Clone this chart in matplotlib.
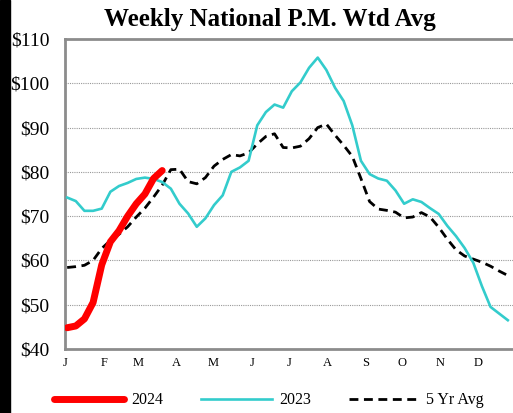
import numpy as np
import matplotlib
matplotlib.use("Agg")
import matplotlib.pyplot as plt
from matplotlib.patches import Rectangle

# weekly values ($/cwt)
prices_2024 = [44.8, 45.2, 46.8, 50.5, 59.0, 64.2, 66.7, 70.0, 72.8, 75.0, 78.5, 80.3]

prices_2023 = [74.2, 73.4, 71.2, 71.2, 71.7, 75.5, 76.8, 77.5, 78.4, 78.7,
               78.4, 77.7, 76.2, 72.8, 70.6, 67.6, 69.5, 72.5, 74.7, 80.0,
               81.0, 82.5, 90.5, 93.5, 95.2, 94.5, 98.2, 100.2, 103.5, 105.8,
               103.0, 99.0, 96.0, 90.5, 82.5, 79.5, 78.5, 78.0, 75.8, 72.8,
               73.8, 73.2, 71.8, 70.5, 67.8, 65.5, 62.8, 59.5, 54.2, 49.5,
               48.0, 46.5]

avg_5yr = [58.4, 58.6, 58.9, 60.0, 62.7, 64.5, 65.9, 67.6, 69.8, 71.8,
           74.3, 77.0, 80.5, 80.6, 77.8, 77.3, 78.7, 81.3, 82.8, 83.9,
           83.6, 84.3, 86.3, 88.0, 88.6, 85.5, 85.4, 85.8, 87.5, 90.0,
           90.8, 88.3, 86.0, 83.5, 78.5, 73.3, 71.6, 71.3, 70.9, 69.6,
           69.8, 70.8, 69.8, 67.5, 64.8, 62.4, 61.0, 60.3, 59.6, 58.7,
           57.6, 56.6]

months = ["J", "F", "M", "A", "M", "J", "J", "A", "S", "O", "N", "D"]
month_days = [31, 28, 31, 30, 31, 30, 31, 31, 30, 31, 30, 31]

serif = ["Liberation Serif", "DejaVu Serif"]

fig = plt.figure(figsize=(5.13, 4.13), dpi=100)
ax = fig.add_axes([65 / 513, 1 - 349 / 413, 1 - 65 / 513, (349 - 39) / 413])

ax.plot(np.arange(len(avg_5yr)), avg_5yr, color="black", lw=2.0,
        dashes=(3.2, 2.0), label="5 Yr Avg", zorder=2, dash_joinstyle="round")
ax.plot(np.arange(len(prices_2023)), prices_2023, color="#33CCCC", lw=1.9,
        solid_joinstyle="round", label="2023", zorder=3)
ax.plot(np.arange(len(prices_2024)), prices_2024, color="#FF0000", lw=5.0,
        solid_capstyle="round", solid_joinstyle="round", label="2024", zorder=4)

ax.set_xlim(-0.25, 51.6)
ax.set_ylim(40, 110)

ax.set_yticks(range(40, 111, 10))
ax.set_yticklabels(["$%d" % v for v in range(40, 111, 10)],
                   fontfamily=serif, fontsize=14)
# month starts in week units
starts = (np.cumsum([0] + month_days[:-1])) / 7.0 - 0.2
ax.set_xticks(starts)
ax.set_xticklabels(months, fontfamily=serif, fontsize=9)
ax.tick_params(axis="y", length=0, pad=11)
ax.tick_params(axis="x", length=0, pad=6)

for v in range(50, 110, 10):
    ax.axhline(v, color="#999999", lw=0.8, ls=(0, (1, 1)), zorder=1)

for s in ["left", "bottom", "top"]:
    ax.spines[s].set_color("#8c8c8c")
    ax.spines[s].set_linewidth(2)
ax.spines["right"].set_visible(False)

fig.text(0.526, 0.953, "Weekly National P.M. Wtd Avg", ha="center", va="center",
         fontfamily=serif, fontsize=18, fontweight="bold")

h, l = ax.get_legend_handles_labels()
fig.legend(h[::-1], l[::-1], loc="center", bbox_to_anchor=(0.524, 0.031), ncol=3,
           frameon=False, prop={"family": serif, "size": 11.5},
           handlelength=4.4, handletextpad=0.45, columnspacing=2.4)

fig.add_artist(Rectangle((0, 0), 10 / 513, 1, transform=fig.transFigure,
                         color="black", zorder=10))

fig.savefig("out.png", dpi=100)
